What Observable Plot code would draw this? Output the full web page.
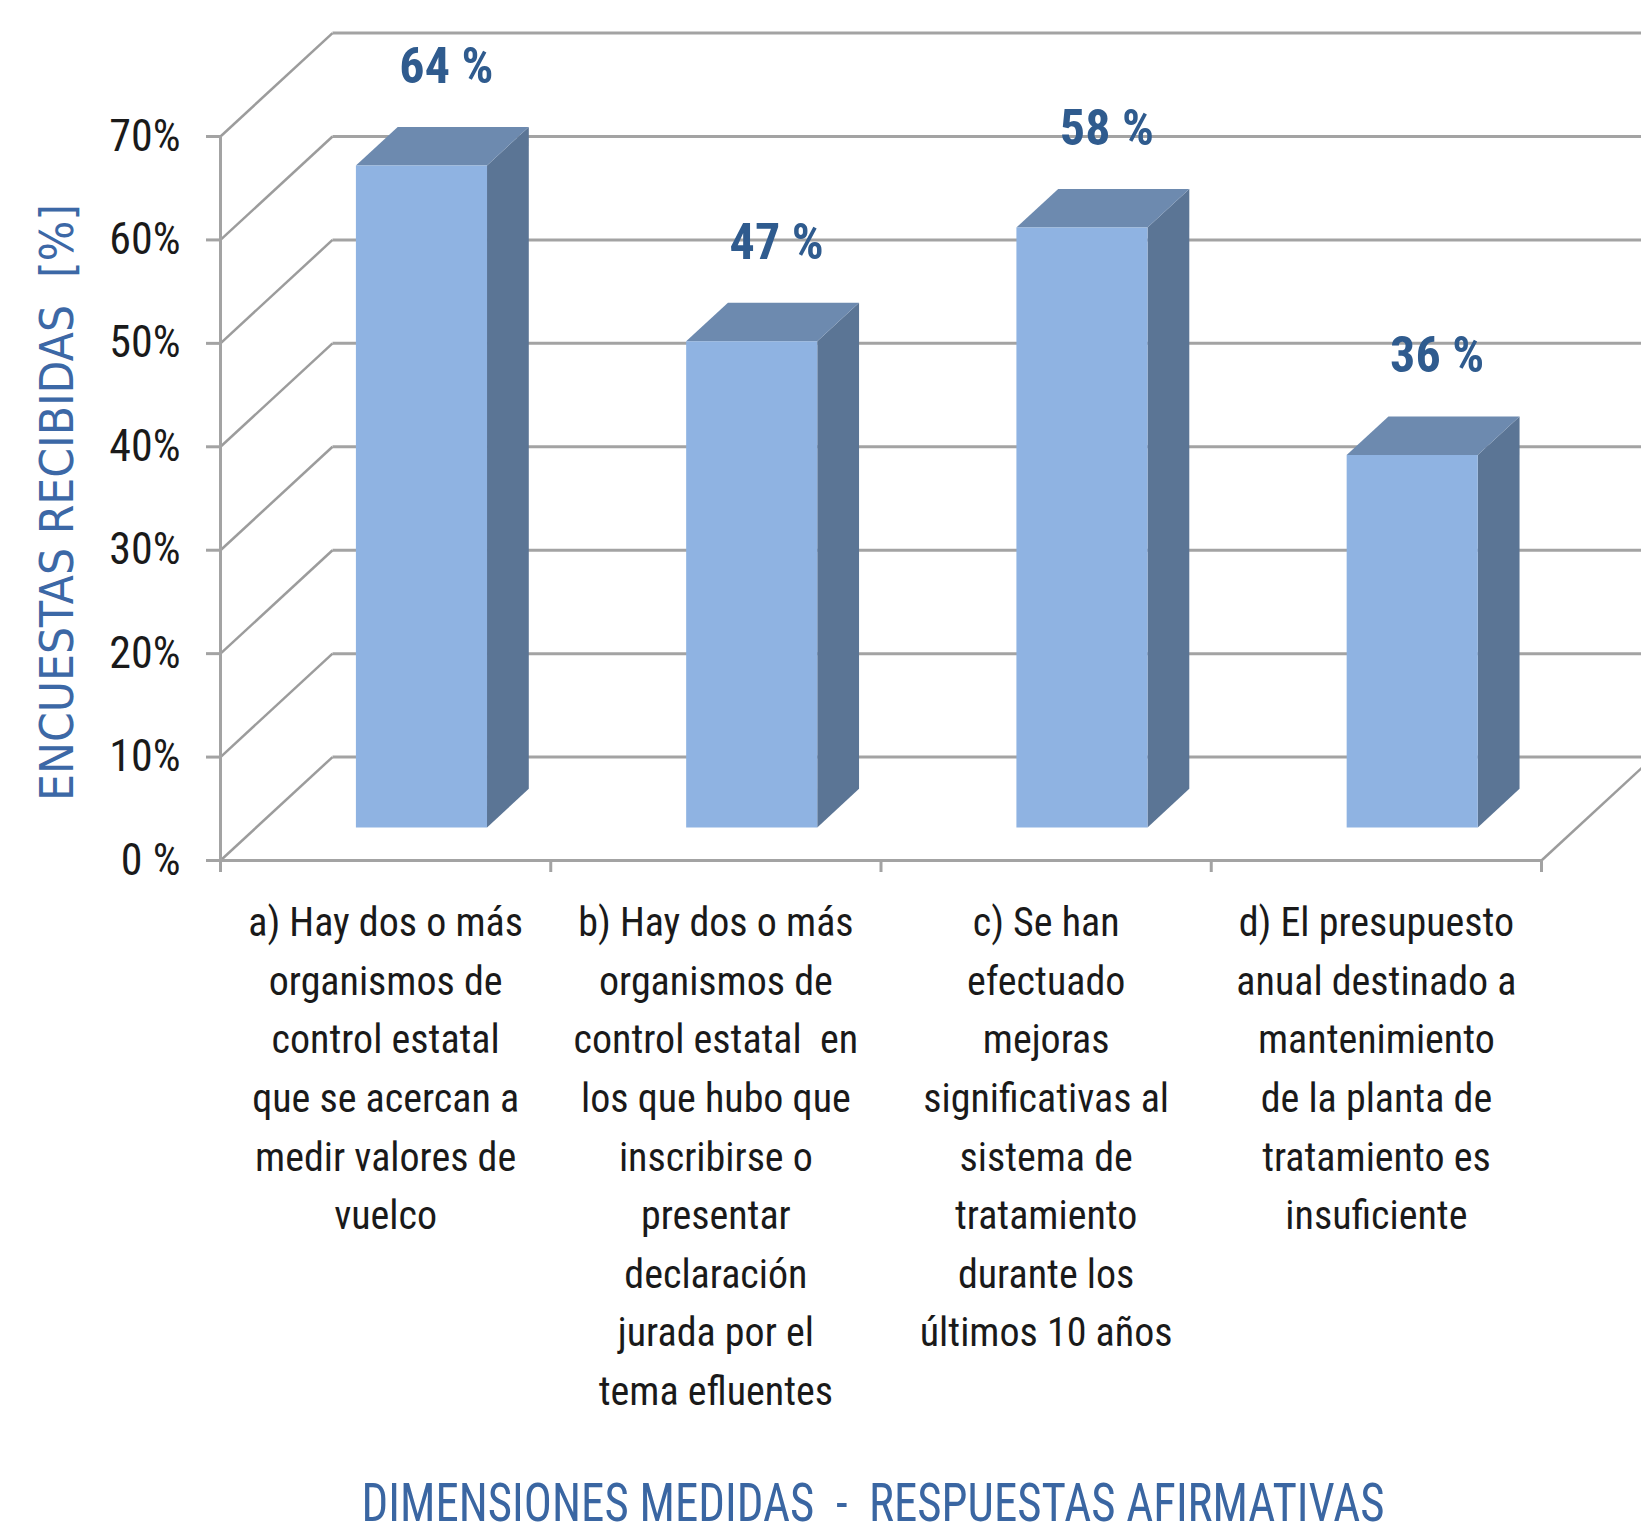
<!DOCTYPE html>
<html>
<head>
<meta charset="utf-8">
<script src="https://cdn.jsdelivr.net/npm/d3@7"></script>
<script src="https://cdn.jsdelivr.net/npm/@observablehq/plot@0.6"></script>
<style>
  html, body { margin: 0; padding: 0; background: #fff; overflow: hidden; }
</style>
</head>
<body>
<div id="chart"></div>
<script>
// ---- data ----
const categories = ["a", "b", "c", "d"];
const values = [64, 47, 58, 36];
const valueLabels = ["64 %", "47 %", "58 %", "36 %"];
const categoryLabels = [
  "a) Hay dos o más\norganismos de\ncontrol estatal\nque se acercan a\nmedir valores de\nvuelco",
  "b) Hay dos o más\norganismos de\ncontrol estatal  en\nlos que hubo que\ninscribirse o\npresentar\ndeclaración\njurada por el\ntema efluentes",
  "c) Se han\nefectuado\nmejoras\nsignificativas al\nsistema de\ntratamiento\ndurante los\núltimos 10 años",
  "d) El presupuesto\nanual destinado a\nmantenimiento\nde la planta de\ntratamiento es\ninsuficiente"
];
const yTicks = [0, 10, 20, 30, 40, 50, 60, 70];
const yTickLabels = ["0 %", "10%", "20%", "30%", "40%", "50%", "60%", "70%"];
const xTicks = [0, 1, 2, 3, 4];
const yTitle = "ENCUESTAS RECIBIDAS\u00a0\u00a0[%]";
const xTitle = "DIMENSIONES MEDIDAS\u00a0\u00a0-\u00a0\u00a0RESPUESTAS AFIRMATIVAS";

// ---- layout / style ----
const W = 1641, H = 1535;
const ML = 220, MR = 100, MT = 136, MB = 675;
const DX = 112 / ((W - ML - MR) / categories.length); // depth offset in x units
const DY = 10;                                          // depth offset in y units
const F0 = 0.32, F1 = 0.693;   // bar depth (front / back) as fraction of wall depth
const BW = 0.397;
const NARROW = "'Liberation Sans Narrow', 'Arial Narrow', 'Roboto Condensed', sans-serif";

const bars = values.map((v, i) => ({
  i, v,
  xl: i + 0.5 - BW / 2,
  xr: i + 0.5 + BW / 2
}));

const frontFace = bars.flatMap(b => [
  {id: b.i, x: b.xl + F0 * DX, y: F0 * DY},
  {id: b.i, x: b.xr + F0 * DX, y: F0 * DY},
  {id: b.i, x: b.xr + F0 * DX, y: b.v + F0 * DY},
  {id: b.i, x: b.xl + F0 * DX, y: b.v + F0 * DY}
]);
const topFace = bars.flatMap(b => [
  {id: b.i, x: b.xl + F0 * DX, y: b.v + F0 * DY},
  {id: b.i, x: b.xr + F0 * DX, y: b.v + F0 * DY},
  {id: b.i, x: b.xr + F1 * DX, y: b.v + F1 * DY},
  {id: b.i, x: b.xl + F1 * DX, y: b.v + F1 * DY}
]);
const sideFace = bars.flatMap(b => [
  {id: b.i, x: b.xr + F0 * DX, y: F0 * DY},
  {id: b.i, x: b.xr + F1 * DX, y: F1 * DY},
  {id: b.i, x: b.xr + F1 * DX, y: b.v + F1 * DY},
  {id: b.i, x: b.xr + F0 * DX, y: b.v + F0 * DY}
]);

const gridColor = "#a3a3a3";

const plot = Plot.plot({
  width: W, height: H,
  marginLeft: ML, marginRight: MR, marginTop: MT, marginBottom: MB,
  x: {domain: [0, categories.length], axis: null},
  y: {domain: [0, 70], axis: null},
  style: {background: "#fff", overflow: "hidden"},
  marks: [
    // back wall horizontal grid lines
    Plot.link(yTicks, {x1: DX, x2: categories.length + 2 * DX, y1: d => d + DY, y2: d => d + DY,
      stroke: gridColor, strokeWidth: 3}),
    // left wall diagonals
    Plot.link(yTicks, {x1: 0, x2: DX, y1: d => d, y2: d => d + DY,
      stroke: "#9c9c9c", strokeWidth: 2.5}),
    // floor right edge
    Plot.link([categories.length], {x1: d => d, x2: d => d + DX, y1: 0, y2: DY,
      stroke: "#9c9c9c", strokeWidth: 2.5}),
    // front axes
    Plot.ruleX([0], {y1: 0, y2: 70, stroke: gridColor, strokeWidth: 3}),
    Plot.ruleY([0], {x1: 0, x2: categories.length, stroke: gridColor, strokeWidth: 3}),
    Plot.ruleY(yTicks, {x1: 0, x2: 0, insetLeft: -14, stroke: gridColor, strokeWidth: 3}),
    Plot.ruleX(xTicks, {y1: 0, y2: 0, insetBottom: -12, stroke: gridColor, strokeWidth: 3}),
    // bars
    Plot.line(sideFace, {x: "x", y: "y", z: "id", fill: "#5b7595", stroke: "none"}),
    Plot.line(topFace, {x: "x", y: "y", z: "id", fill: "#6d8aaf", stroke: "none"}),
    Plot.line(frontFace, {x: "x", y: "y", z: "id", fill: "#8fb3e2", stroke: "none"}),
    // value labels
    Plot.text(bars, {
      x: b => (b.xl + b.xr) / 2 + ((F0 + F1) / 2) * DX,
      y: b => b.v + F1 * DY,
      text: (b) => valueLabels[b.i],
      dx: 4, dy: -60, fontSize: 50, fontWeight: "bold", fill: "#2f5b8e", fontFamily: NARROW
    }),
    // y tick labels
    Plot.text(yTicks, {x: 0, y: d => d, text: (d, i) => yTickLabels[i], dx: -40,
      textAnchor: "end", fontSize: 44, fill: "#1a1a1a", fontFamily: NARROW}),
    // category labels
    Plot.text(categoryLabels, {x: (d, i) => i + 0.5, y: 0, text: d => d, dy: 34,
      lineAnchor: "top", lineHeight: 1.465, fontSize: 40, fill: "#1a1a1a", fontFamily: NARROW}),
    // y title
    Plot.text([yTitle], {frameAnchor: "left", textAnchor: "middle", dx: -162, dy: 4, rotate: -90,
      fontSize: 46, fill: "#3c68a6", fontFamily: "'DejaVu Sans', sans-serif", className: "ytitle"}),
    // x title
    Plot.text([xTitle], {frameAnchor: "bottom", dx: -8, dy: 660,
      fontSize: 54, fill: "#3a66a2", fontFamily: NARROW, className: "xtitle"})
  ]
});

// fit the titles to the measured lengths of the reference
d3.select(plot).selectAll(".ytitle text").attr("textLength", 597).attr("lengthAdjust", "spacingAndGlyphs");
d3.select(plot).selectAll(".xtitle text").attr("textLength", 1023).attr("lengthAdjust", "spacingAndGlyphs");

document.getElementById("chart").appendChild(plot);
</script>
</body>
</html>
